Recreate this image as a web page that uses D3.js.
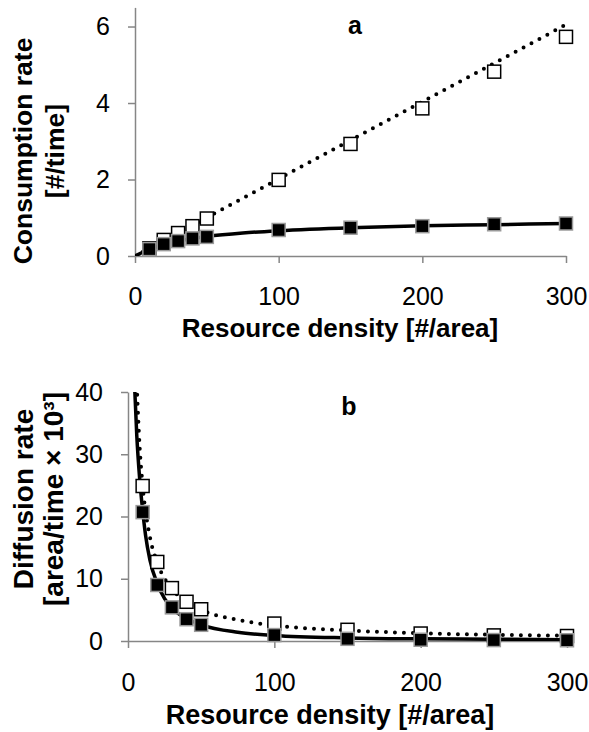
<!DOCTYPE html>
<html>
<head>
<meta charset="utf-8">
<script src="https://cdnjs.cloudflare.com/ajax/libs/d3/7.8.5/d3.min.js"></script>
<style>
  body { margin: 0; background: #fff; }
  svg { font-family: "Liberation Sans", Arial, sans-serif; }
  .tick text { font-size: 25px; fill: #000; }
  .axis path, .axis line { stroke: #868686; stroke-width: 1.5; }
  .title { font-weight: bold; fill: #000; }
</style>
</head>
<body>
<div id="chart"></div>
<script>

// resource densities where the markers sit
var densities = [10, 20, 30, 40, 50, 100, 150, 200, 250, 300];

// panel a: consumption rate [#/time]
var consumptionOpen = [0.2, 0.42, 0.6, 0.78, 0.98, 1.99, 2.93, 3.86, 4.82, 5.73];
var consumptionFilled = [0.18, 0.31, 0.39, 0.46, 0.5, 0.68, 0.74, 0.78, 0.83, 0.85];

// panel a: fitted curves
var curveA_dotX = [0, 300];
var curveA_dotY = [0, 6.05];
var curveA_solidX = [0, 10, 20, 30, 40, 50, 75, 100, 150, 200, 250, 300];
var curveA_solidY = [0, 0.17, 0.3, 0.39, 0.46, 0.51, 0.6, 0.66, 0.74, 0.79, 0.82, 0.85];

// panel b: diffusion rate [area/time x 10^3]
var diffusionOpen = [24.9, 12.7, 8.5, 6.3, 5.1, 2.8, 1.8, 1.2, 0.9, 0.8];
var diffusionFilled = [20.7, 9.0, 5.4, 3.5, 2.6, 0.95, 0.35, 0.2, 0.15, 0.12];

// panel b: fitted curves
var curveB_dotX = [6, 8, 10, 15, 20, 30, 40, 50, 75, 100, 150, 200, 250, 300];
var curveB_dotY = [41, 31, 25, 16.7, 12.6, 8.4, 6.3, 5.0, 3.4, 2.5, 1.7, 1.25, 1.0, 0.85];
var curveB_solidX = [4.5, 6, 8, 10, 12, 15, 20, 25, 30, 40, 50, 75, 100, 150, 200, 250, 300];
var curveB_solidY = [41, 33, 26, 21, 17, 13, 9.2, 6.8, 5.3, 3.6, 2.6, 1.4, 0.9, 0.5, 0.35, 0.28, 0.22];

var xTicks = [0, 100, 200, 300];
var yTicksA = [0, 2, 4, 6];
var yTicksB = [0, 10, 20, 30, 40];

var svg = d3.select("#chart").append("svg")
    .attr("width", 589)
    .attr("height", 732);

function zipXY(xs, ys) {
    return xs.map(function(x, i) { return [x, ys[i]]; });
}

/*
 *  draws one panel
 */
function drawPanel(p) {
    var x = d3.scaleLinear().domain([0, 300]).range([p.left, p.right]);
    var y = d3.scaleLinear().domain([0, p.yMax]).range([p.bottom, p.top]);

    var g = svg.append("g");

    // clip lines to the plot box
    g.append("clipPath").attr("id", "clip-" + p.name)
        .append("rect")
        .attr("x", p.left).attr("y", y(p.yMax))
        .attr("width", p.right - p.left + 20)
        .attr("height", p.bottom - y(p.yMax));

    // axes
    g.append("g")
        .attr("class", "axis")
        .attr("transform", "translate(0," + p.bottom + ")")
        .call(d3.axisBottom(x).tickValues(xTicks).tickFormat(d3.format("d"))
            .tickSize(7).tickSizeOuter(0).tickPadding(p.xPad));

    g.append("g")
        .attr("class", "axis")
        .attr("transform", "translate(" + p.left + ",0)")
        .call(d3.axisLeft(y).tickValues(p.yTicks).tickFormat(d3.format("d"))
            .tickSize(7).tickSizeOuter(0).tickPadding(18));

    svg.selectAll(".axis").attr("font-size", null).attr("font-family", null);

    var line = d3.line()
        .x(function(d) { return x(d[0]); })
        .y(function(d) { return y(d[1]); })
        .curve(d3.curveMonotoneX);

    var lines = g.append("g").attr("clip-path", "url(#clip-" + p.name + ")");

    lines.append("path")
        .datum(p.dotCurve)
        .attr("d", line)
        .attr("fill", "none")
        .attr("stroke", "#000")
        .attr("stroke-width", 4)
        .attr("stroke-linecap", "round")
        .attr("stroke-dasharray", "0 9");

    lines.append("path")
        .datum(p.solidCurve)
        .attr("d", line)
        .attr("fill", "none")
        .attr("stroke", "#000")
        .attr("stroke-width", 3.5);

    // open squares below, filled squares on top
    g.append("g").selectAll("rect")
        .data(densities)
        .enter().append("rect")
        .attr("x", function(d) { return x(d) - 6.5; })
        .attr("y", function(d, i) { return y(p.open[i]) - 6.5; })
        .attr("width", 13)
        .attr("height", 13)
        .attr("fill", "#fff")
        .attr("stroke", "#000")
        .attr("stroke-width", 1.5);

    g.append("g").selectAll("rect")
        .data(densities)
        .enter().append("rect")
        .attr("x", function(d) { return x(d) - 6.5; })
        .attr("y", function(d, i) { return y(p.filled[i]) - 6.5; })
        .attr("width", 13)
        .attr("height", 13)
        .attr("fill", "#000")
        .attr("stroke", "#9a9a9a")
        .attr("stroke-width", 1.5);

    // labels
    g.append("text")
        .attr("class", "title")
        .attr("x", p.letterX)
        .attr("y", p.letterY)
        .attr("text-anchor", "middle")
        .attr("font-size", 25)
        .text(p.name);

    g.append("text")
        .attr("class", "title")
        .attr("x", p.xTitleX)
        .attr("y", p.xTitleY)
        .attr("text-anchor", "middle")
        .attr("font-size", p.xTitleSize)
        .text("Resource density [#/area]");

    p.yTitle.forEach(function(t, i) {
        g.append("text")
            .attr("class", "title")
            .attr("transform", "translate(" + p.yTitleX[i] + "," + p.yTitleY + ") rotate(-90)")
            .attr("text-anchor", "middle")
            .attr("font-size", p.yTitleSize)
            .text(t);
    });
}

drawPanel({
    name: "a",
    left: 135, right: 566, top: 7.4, bottom: 256, yMax: 6.5,
    yTicks: yTicksA, xPad: 24,
    open: consumptionOpen, filled: consumptionFilled,
    dotCurve: zipXY(curveA_dotX, curveA_dotY),
    solidCurve: zipXY(curveA_solidX, curveA_solidY),
    letterX: 355, letterY: 34,
    xTitleX: 340, xTitleY: 337, xTitleSize: 26,
    yTitle: ["Consumption rate", "[#/time]"],
    yTitleX: [32, 64], yTitleY: 151, yTitleSize: 26.5
});

drawPanel({
    name: "b",
    left: 128, right: 567, top: 392, bottom: 641, yMax: 40,
    yTicks: yTicksB, xPad: 25,
    open: diffusionOpen, filled: diffusionFilled,
    dotCurve: zipXY(curveB_dotX, curveB_dotY),
    solidCurve: zipXY(curveB_solidX, curveB_solidY),
    letterX: 349, letterY: 415,
    xTitleX: 330, xTitleY: 724, xTitleSize: 27,
    yTitle: ["Diffusion rate", "[area/time \u00d7 10\u00b3]"],
    yTitleX: [33, 63], yTitleY: 499, yTitleSize: 28
});

</script>
</body>
</html>
